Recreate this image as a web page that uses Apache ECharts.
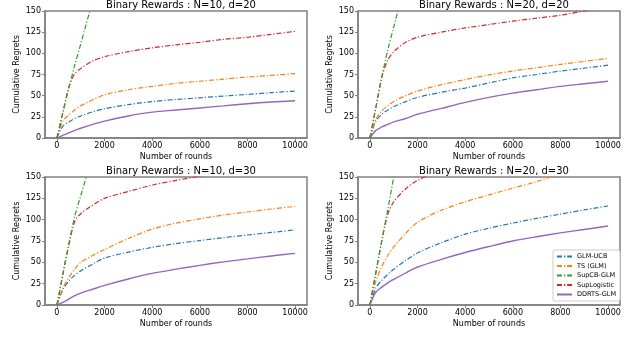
<!DOCTYPE html>
<html>
<head>
<meta charset="utf-8">
<script src="https://cdn.jsdelivr.net/npm/echarts@6/dist/echarts.min.js"></script>
<style>
  html, body { margin: 0; padding: 0; background: #fff; }
  #chart { width: 640px; height: 347px; }
</style>
</head>
<body>
<div id="chart"></div>
<script>
// shared x values (number of rounds)
var rounds = [0, 250, 500, 750, 1000, 1500, 2000, 3000, 4000, 5000, 6000, 7000, 8000, 9000, 10000];
var xTicks = [0, 2000, 4000, 6000, 8000, 10000];
var seriesNames = ["GLM-UCB", "TS (GLM)", "SupCB-GLM", "SupLogistic", "DDRTS-GLM"];
var panelTitles = [
  "Binary Rewards : N=10, d=20",
  "Binary Rewards : N=20, d=20",
  "Binary Rewards : N=10, d=30",
  "Binary Rewards : N=20, d=30"
];

// N=10, d=20
var glmUcb1 = [0, 14, 19, 23, 26, 31, 34.5, 39.5, 43, 45.5, 47.5, 49.5, 51.5, 53.5, 55.5];
var ts1 = [0, 20, 27, 33, 38, 45, 51, 57, 61, 64.5, 67, 69.5, 72, 74, 76];
var supCb1 = [0, 30, 59, 86, 111, 162, null, null, null, null, null, null, null, null, null];
var supLog1 = [0, 30, 60, 76, 82, 91, 96, 102, 106.5, 110, 113, 116.5, 119, 122.5, 126];
var ddrts1 = [0, 3, 6, 9, 11.5, 16, 20, 26, 30.5, 33, 35.5, 38, 40.5, 42.5, 44];

// N=20, d=20
var glmUcb2 = [0, 20, 28, 33, 37, 43, 48, 54, 59, 65, 71, 75, 79, 82.5, 86];
var ts2 = [0, 22, 32, 38, 43, 50, 55.5, 63, 69, 74.5, 79, 83, 87, 90.5, 94];
var supCb2 = [0, 36, 72, 104, 131, 186, null, null, null, null, null, null, null, null, null];
var supLog2 = [0, 36, 72, 92, 102, 113, 119, 125, 130, 134, 138, 141.5, 145, 150, 154];
var ddrts2 = [0, 9, 13, 16, 19, 23, 28, 35, 42, 48, 53, 57, 61, 64, 67];

// N=10, d=30
var glmUcb3 = [0, 18, 28, 35, 40, 48, 55, 62, 67.5, 72, 75.5, 79, 82, 85, 88];
var ts3 = [0, 20, 32, 42, 50, 58, 65, 78, 89, 96, 101, 105.5, 109, 112.5, 115.5];
var supCb3 = [0, 36, 72, 104, 128, 175, null, null, null, null, null, null, null, null, null];
var supLog3 = [0, 36, 70, 98, 107, 117, 125, 133, 140.5, 146, 151, 155, 159, 162, 165];
var ddrts3 = [0, 3, 7, 11, 14, 18.5, 23, 30.5, 37, 42, 46.5, 50.5, 54, 57.5, 60.5];

// N=20, d=30
var glmUcb4 = [0, 20, 29, 36, 42, 52, 61, 73, 83, 90, 96, 101.5, 106.5, 111.5, 116];
var ts4 = [0, 28, 45, 58, 68, 84, 97, 111, 121, 129, 137, 144.5, 154, 160, 166];
var supCb4 = [0, 38, 76, 112, 150, 225, null, null, null, null, null, null, null, null, null];
var supLog4 = [0, 38, 75, 106, 121, 136, 146, 158, 168, 176, 183, 189, 195, 200, 205];
var ddrts4 = [0, 15, 21, 26, 30, 37.5, 44.5, 53.5, 61.5, 68.5, 75, 80, 84.5, 88.5, 92.5];

var panels = [
  [glmUcb1, ts1, supCb1, supLog1, ddrts1],
  [glmUcb2, ts2, supCb2, supLog2, ddrts2],
  [glmUcb3, ts3, supCb3, supLog3, ddrts3],
  [glmUcb4, ts4, supCb4, supLog4, ddrts4]
];

var colors = ["#1f77b4", "#ff7f0e", "#2ca02c", "#d62728", "#9467bd"];
var font = "DejaVu Sans";
var frame = "#808080";

var gridPos = [
  { left: 45, top: 11, width: 262, height: 127 },
  { left: 358, top: 11, width: 262, height: 127 },
  { left: 45, top: 177, width: 262, height: 128 },
  { left: 358, top: 177, width: 262, height: 128 }
];
var titlePos = [[176, -5], [489, -5], [176, 161], [489, 161]];

function pairs(xs, ys) {
  var out = [];
  for (var i = 0; i < xs.length; i++) {
    out.push([xs[i], ys[i]]);
  }
  return out;
}

var grids = [], xAxes = [], yAxes = [], titles = [], series = [];
for (var p = 0; p < 4; p++) {
  grids.push({
    left: gridPos[p].left, top: gridPos[p].top,
    width: gridPos[p].width, height: gridPos[p].height,
    show: true, borderColor: frame, borderWidth: 1.5, containLabel: false
  });
  titles.push({
    text: panelTitles[p],
    left: titlePos[p][0], top: titlePos[p][1], textAlign: "center",
    textStyle: { fontFamily: font, fontSize: 10, fontWeight: "normal", color: "#000" }
  });
  xAxes.push({
    type: "value", gridIndex: p, min: -500, max: 10500,
    name: "Number of rounds", nameLocation: "middle", nameGap: 15,
    nameTextStyle: { fontFamily: font, fontSize: 8, color: "#000" },
    splitLine: { show: false },
    axisLine: { show: true, onZero: false, lineStyle: { color: frame, width: 1.5 } },
    axisTick: { show: true, length: 3, customValues: xTicks, lineStyle: { color: frame } },
    axisLabel: {
      customValues: xTicks, margin: 4, fontFamily: font, fontSize: 8, color: "#000",
      formatter: function (v) { return String(v); }
    }
  });
  yAxes.push({
    type: "value", gridIndex: p, min: 0, max: 150, interval: 25,
    name: "Cumulative Regrets", nameLocation: "middle", nameGap: 24,
    nameTextStyle: { fontFamily: font, fontSize: 8, color: "#000" },
    splitLine: { show: false },
    axisLine: { show: true, onZero: false, lineStyle: { color: frame, width: 1.5 } },
    axisTick: { show: true, length: 3, lineStyle: { color: frame } },
    axisLabel: { margin: 4, fontFamily: font, fontSize: 8, color: "#000" }
  });
  for (var s = 0; s < 5; s++) {
    series.push({
      name: seriesNames[s],
      type: "line",
      xAxisIndex: p, yAxisIndex: p,
      data: pairs(rounds, panels[p][s]),
      symbol: "none",
      smooth: 0.3,
      clip: true,
      color: colors[s],
      lineStyle: {
        color: colors[s],
        width: s === 4 ? 1.4 : 1.2,
        type: s === 4 ? "solid" : [5, 2, 1.2, 2]
      },
      z: s === 2 ? 3 : 2
    });
  }
}

var chart = echarts.init(document.getElementById("chart"), null, { renderer: "canvas" });
chart.setOption({
  animation: false,
  backgroundColor: "#fff",
  title: titles,
  grid: grids,
  xAxis: xAxes,
  yAxis: yAxes,
  legend: {
    data: seriesNames,
    orient: "vertical",
    left: 553, top: 250,
    itemWidth: 15, itemHeight: 7, itemGap: 2.5,
    padding: [3, 4, 3, 3],
    itemStyle: { opacity: 0 },
    backgroundColor: "#fff",
    borderColor: "#ccc", borderWidth: 1, borderRadius: 2,
    textStyle: { fontFamily: font, fontSize: 6.5, color: "#000" }
  },
  series: series
});
</script>
</body>
</html>
